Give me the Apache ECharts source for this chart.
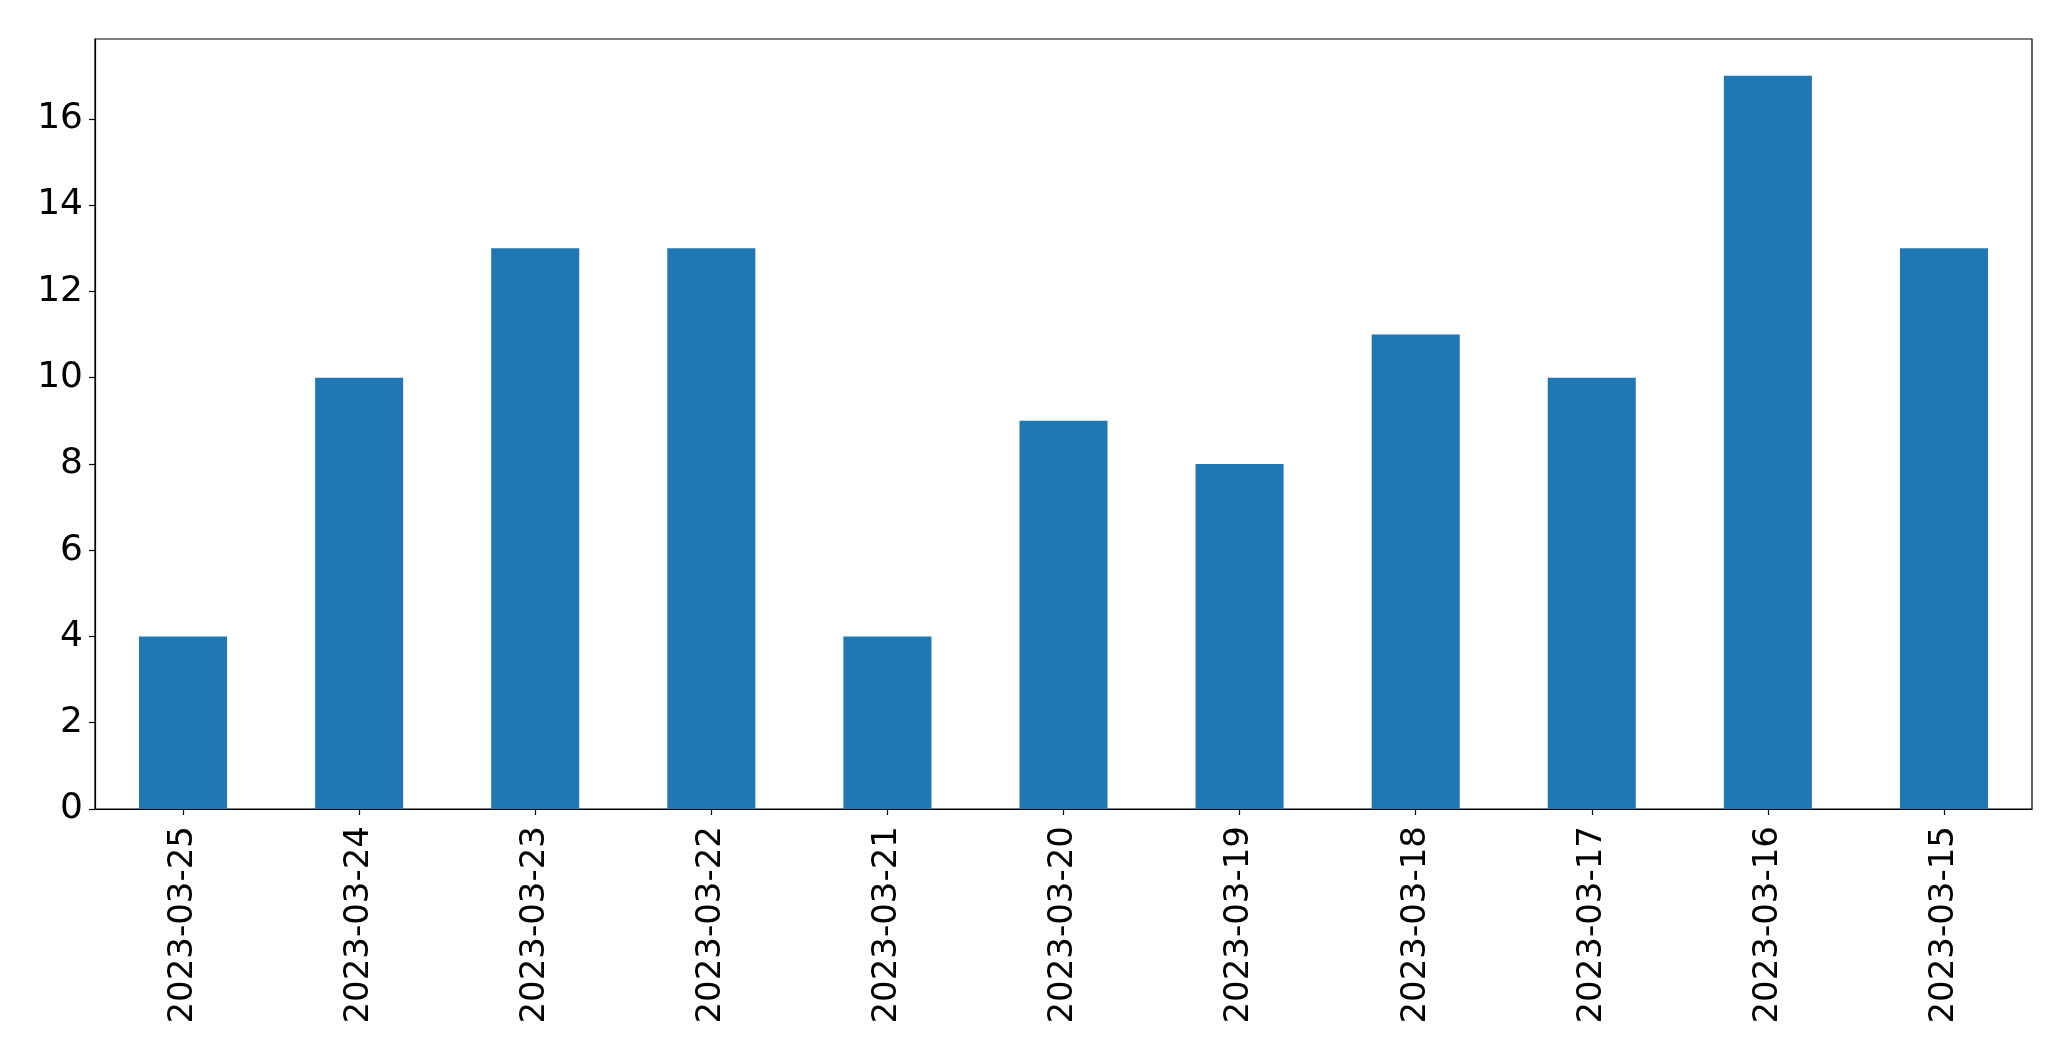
<!DOCTYPE html>
<html>
<head>
<meta charset="utf-8">
<script src="https://cdn.jsdelivr.net/npm/echarts@6/dist/echarts.min.js"></script>
<style>html,body{margin:0;padding:0;background:#fff;}#c{width:2071px;height:1061px;}</style>
</head>
<body>
<div id="c"></div>
<script>
const categories = ['2023-03-25','2023-03-24','2023-03-23','2023-03-22','2023-03-21','2023-03-20','2023-03-19','2023-03-18','2023-03-17','2023-03-16','2023-03-15'];
const values = [4, 10, 13, 13, 4, 9, 8, 11, 10, 17, 13];

const chart = echarts.init(document.getElementById('c'), null, {renderer: 'canvas'});
chart.setOption({
  backgroundColor: '#fff',
  animation: false,
  grid: {left: 95, right: 39, top: 39, bottom: 252, show: true, borderColor: '#000', borderWidth: 1.2, containLabel: false},
  xAxis: {
    type: 'category',
    data: categories,
    boundaryGap: true,
    axisLine: {show: true, lineStyle: {color: '#000', width: 1.2}},
    axisTick: {show: true, alignWithLabel: true, length: 6, lineStyle: {color: '#000', width: 1.2}},
    axisLabel: {rotate: 90, interval: 0, margin: 17, color: '#000', fontSize: 34, fontFamily: 'DejaVu Sans'},
    splitLine: {show: false}
  },
  yAxis: {
    type: 'value',
    min: 0, max: 17.85, interval: 2,
    axisLine: {show: true, lineStyle: {color: '#000', width: 1.2}},
    axisTick: {show: true, length: 6, lineStyle: {color: '#000', width: 1.2}},
    axisLabel: {margin: 12, color: '#000', fontSize: 36, fontFamily: 'DejaVu Sans', showMaxLabel: false},
    splitLine: {show: false}
  },
  series: [{
    type: 'bar',
    data: values,
    barWidth: '50%',
    itemStyle: {color: '#1f77b4'}
  }]
});
</script>
</body>
</html>
